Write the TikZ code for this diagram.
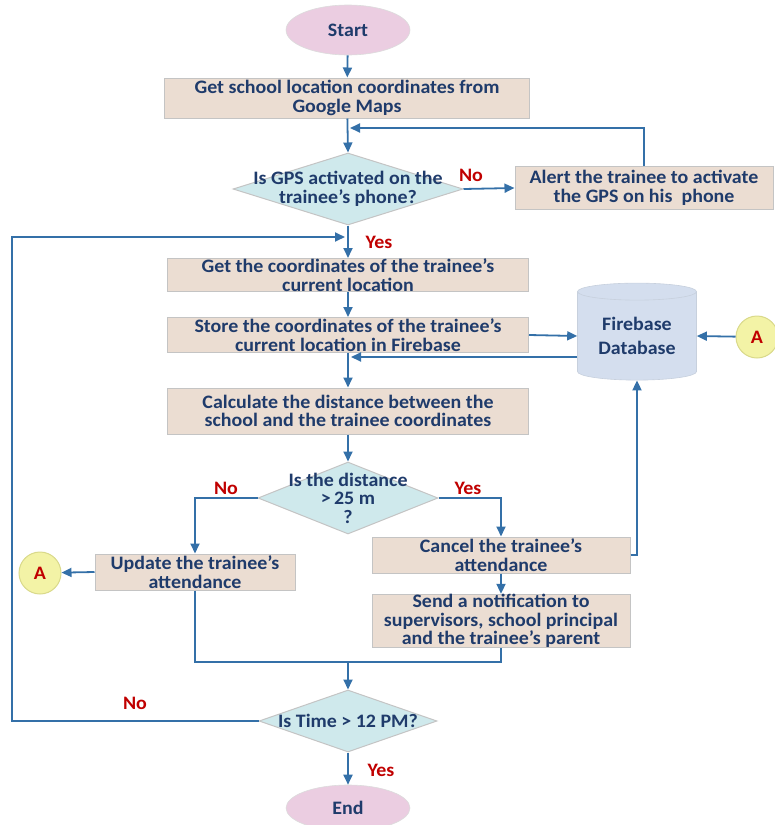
\documentclass[tikz,border=0pt]{standalone}
\usepackage{fontspec}
\setmainfont{Carlito}[FakeStretch=1.05]
\usetikzlibrary{shapes.geometric,arrows.meta,calc}
\definecolor{boxfill}{HTML}{EBDDD2}
\definecolor{boxline}{HTML}{C4C4C4}
\definecolor{decfill}{HTML}{CFE9EC}
\definecolor{termfill}{HTML}{EBCDE1}
\definecolor{dbfill}{HTML}{D4DEEE}
\definecolor{connfill}{HTML}{F3F3A6}
\definecolor{connline}{HTML}{D9D98A}
\definecolor{arrowc}{HTML}{3470A8}
\definecolor{txtc}{HTML}{1F3B6B}
\definecolor{redl}{HTML}{C00000}
\begin{document}
\begin{tikzpicture}[x=1pt,y=-1pt,
  lbl/.style={font=\bfseries\fontsize{19}{18.5}\selectfont, text=txtc, align=center, inner sep=0pt},
  proc/.style={rectangle, fill=boxfill, draw=boxline, line width=1pt, inner sep=0pt, lbl},
  dec/.style={diamond, fill=decfill, draw=boxline, line width=1pt, inner sep=0pt},
  term/.style={ellipse, fill=termfill, draw=boxline!60, line width=0.6pt, inner sep=0pt, lbl},
  conn/.style={circle, fill=connfill, draw=connline, line width=1pt, minimum size=42pt, inner sep=0pt, font=\bfseries\fontsize{19}{19}\selectfont, text=redl},
  yn/.style={font=\bfseries\fontsize{19}{19}\selectfont, text=redl, inner sep=0pt},
  line/.style={draw=arrowc, line width=1.8pt},
  arr/.style={line, -{Triangle[length=10pt,width=9pt]}}
]
\useasboundingbox (0,0) rectangle (775,825);

% nodes
\node[term, minimum width=124pt, minimum height=50pt] (start) at (348,30) {Start};
\node[proc, minimum width=365pt, minimum height=40pt] (b1) at (347,98) {Get school location coordinates from\\Google Maps};
\node[dec, minimum width=230pt, minimum height=72pt] (d1) at (348,189) {};
\node[lbl] at (d1) {Is GPS activated on the\\trainee's phone?};
\node[proc, minimum width=258pt, minimum height=43pt] (alert) at (644,188) {Alert the trainee to activate\\the GPS on his\ \ phone};
\node[proc, minimum width=361pt, minimum height=33pt] (b2) at (348,275) {Get the coordinates of the trainee's\\current location};
\node[proc, minimum width=361pt, minimum height=35pt] (b3) at (348,335) {Store the coordinates of the trainee's\\current location in Firebase};
\node[cylinder, shape border rotate=90, aspect=0.22, fill=dbfill, draw=dbfill!85!gray, line width=0.6pt, minimum width=119pt, minimum height=97pt, lbl] (db) at (637,336) {Firebase\\[6pt]Database};
\node[conn] (Ar) at (757,337) {A};
\node[proc, minimum width=361pt, minimum height=46pt] (b4) at (348,411) {Calculate the distance between the\\school and the trainee coordinates};
\node[dec, minimum width=180pt, minimum height=72pt] (d2) at (348,498) {};
\node[lbl] at (d2) {Is the distance\\>\,25 m\\?};
\node[proc, minimum width=200pt, minimum height=36pt] (b5) at (195,572) {Update the trainee’s\\attendance};
\node[conn] (Al) at (40,573) {A};
\node[proc, minimum width=258pt, minimum height=36pt] (b6) at (501,555) {Cancel the trainee’s\\attendance};
\node[proc, minimum width=258pt, minimum height=48pt] (b7) at (501,621) {Send a notification to\\supervisors, school principal\\and the trainee’s parent};
\node[dec, minimum width=178pt, minimum height=62pt] (d3) at (348,721) {};
\node[lbl] at (d3) {Is Time > 12 PM?};
\node[term, minimum width=124pt, minimum height=46pt] (end) at (348,808) {End};

% junction coordinates
\coordinate (j1) at (350,128);
\coordinate (j2) at (345,237);
\coordinate (j3) at (351,357);
\coordinate (j4) at (348,662);
\coordinate (lc) at (12,721);

% connectors
\draw[arr] (start) -- (b1);
\draw[arr] (b1) -- (d1.north);
\draw[arr] (alert.north) |- (j1);
\draw[arr] (d1.east) -- (alert.west);
\draw[arr] (d1.south) -- (b2.north);
\draw[arr] (d3.west) -- (lc) |- (j2);
\draw[arr] (b2) -- (b3);
\draw[arr] (b3.east) -- (db.west);
\draw[arr] (db.west |- j3) -- (j3);
\draw[arr] (Ar) -- (db.east);
\draw[arr] (b3) -- (b4);
\draw[arr] (b4) -- (d2.north);
\draw[arr] (d2.west) -| (b5.north);
\draw[arr] (d2.east) -| (b6.north);
\draw[arr] (b5.west) -- (Al);
\draw[arr] (b6.east) -| (db.south);
\draw[arr] (b6) -- (b7);
\draw[line] (b5.south) |- (j4) -| (b7.south);
\draw[arr] (j4) -- (d3.north);
\draw[arr] (d3.south) -- (end);

% yes/no labels
\node[yn] at (471,175) {No};
\node[yn] at (379,242) {Yes};
\node[yn] at (226,488) {No};
\node[yn] at (468,488) {Yes};
\node[yn] at (135,703) {No};
\node[yn] at (381,770) {Yes};
\end{tikzpicture}
\end{document}
